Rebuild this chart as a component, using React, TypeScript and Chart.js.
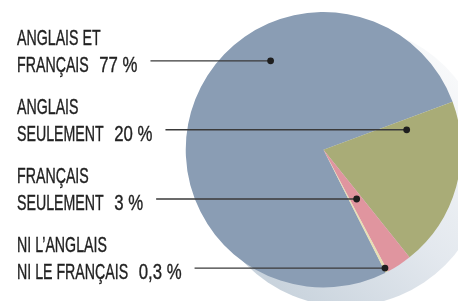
import React, { useEffect, useRef } from "react";
import { Chart, registerables } from "chart.js";

Chart.register(...registerables);

const categoriesLine1 = ["ANGLAIS ET", "ANGLAIS", "FRANÇAIS", "NI L’ANGLAIS"];
const categoriesLine2 = ["FRANÇAIS", "SEULEMENT", "SEULEMENT", "NI LE FRANÇAIS"];
const values = [77, 20, 3, 0.3];
const valueLabels = ["77 %", "20 %", "3 %", "0,3 %"];
const colors = ["#8a9db4", "#a9ac77", "#e0959f", "#e9dfb4"];

// leader dot placement inside each slice: fraction along the slice angle, fraction of radius
const dotAngleFrac = [0.637, 0.0965, 0.435, 0.4];
const dotRadiusFrac = [0.751, 0.621, 0.431, 0.968];

const LABEL_FONT = "21.5px 'Liberation Sans', Arial, sans-serif";
const LABEL_SCALE = 0.66;
const VALUE_SCALE = 0.78;

const shadowPlugin = {
  id: "pieShadow",
  beforeDatasetsDraw(chart: any) {
    const meta = chart.getDatasetMeta(0);
    const arc = meta.data[0];
    if (!arc) return;
    const { x, y, outerRadius } = arc.getProps(["x", "y", "outerRadius"], true);
    const sx = x + 0.163 * outerRadius;
    const sy = y + 0.116 * outerRadius;
    const R = 1.02 * outerRadius;
    const ctx = chart.ctx;
    ctx.save();
    const g = ctx.createLinearGradient(sx - 0.75 * R, sy + 0.75 * R, sx + 0.75 * R, sy - 0.75 * R);
    g.addColorStop(0, "#c6d1db");
    g.addColorStop(0.5, "#e3e8ee");
    g.addColorStop(0.8, "#eff2f5");
    g.addColorStop(1, "#f9fafb");
    ctx.fillStyle = g;
    ctx.beginPath();
    ctx.arc(sx, sy, R, 0, Math.PI * 2);
    ctx.fill();
    ctx.restore();
  },
};

function drawScaledText(ctx: CanvasRenderingContext2D, text: string, x: number, y: number, sx: number) {
  ctx.save();
  ctx.translate(x, y);
  ctx.scale(sx, 1);
  ctx.fillText(text, 0, 0);
  ctx.strokeText(text, 0, 0);
  ctx.restore();
  return ctx.measureText(text).width * sx;
}

const labelPlugin = {
  id: "sideLabels",
  afterDatasetsDraw(chart: any) {
    const meta = chart.getDatasetMeta(0);
    const ctx = chart.ctx as CanvasRenderingContext2D;
    ctx.save();
    ctx.font = LABEL_FONT;
    ctx.textBaseline = "alphabetic";
    ctx.textAlign = "left";
    meta.data.forEach((arc: any, i: number) => {
      const p = arc.getProps(["x", "y", "startAngle", "endAngle", "outerRadius"], true);
      const a = p.startAngle + dotAngleFrac[i] * (p.endAngle - p.startAngle);
      const r = dotRadiusFrac[i] * p.outerRadius;
      const px = p.x + r * Math.cos(a);
      const py = p.y + r * Math.sin(a);

      const textX = 17;
      const base2 = py + 10.8;
      const base1 = base2 - 26.5;
      ctx.fillStyle = "#222222";
      ctx.strokeStyle = "#222222";
      ctx.lineWidth = 0.35;

      drawScaledText(ctx, categoriesLine1[i], textX, base1, LABEL_SCALE);
      const w2 = drawScaledText(ctx, categoriesLine2[i], textX, base2, LABEL_SCALE);
      const vx = textX + w2 + 10.5;
      const wv = drawScaledText(ctx, valueLabels[i], vx, base2, VALUE_SCALE);

      const lx = vx + wv + 13;
      ctx.strokeStyle = "#3a3a3a";
      ctx.lineWidth = 1.4;
      ctx.beginPath();
      ctx.moveTo(lx, py);
      ctx.lineTo(px, py);
      ctx.stroke();

      ctx.fillStyle = "#1e1e1e";
      ctx.beginPath();
      ctx.arc(px, py, 3.4, 0, Math.PI * 2);
      ctx.fill();
    });
    ctx.restore();
  },
};

export default function App() {
  const canvasRef = useRef<HTMLCanvasElement | null>(null);

  useEffect(() => {
    document.body.style.margin = "0";
    const canvas = canvasRef.current;
    if (!canvas) return;
    const chart = new Chart(canvas, {
      type: "pie",
      data: {
        labels: categoriesLine1.map((l, i) => `${l} ${categoriesLine2[i]}`),
        datasets: [
          {
            data: values,
            backgroundColor: colors,
            borderWidth: 0,
            clip: false as any,
          },
        ],
      },
      options: {
        animation: false,
        responsive: false,
        rotation: 153.2,
        layout: { padding: { left: 185.5, right: 8.5, top: 12, bottom: 13.5 } },
        plugins: {
          legend: { display: false },
          tooltip: { enabled: false },
        },
        events: [],
      },
      plugins: [shadowPlugin, labelPlugin],
    });
    return () => chart.destroy();
  }, []);

  return (
    <div
      style={{
        position: "fixed",
        left: 0,
        top: 0,
        width: 458,
        height: 301,
        overflow: "hidden",
        background: "#ffffff",
      }}
    >
      <canvas ref={canvasRef} width={470} height={301} style={{ display: "block" }} />
    </div>
  );
}
